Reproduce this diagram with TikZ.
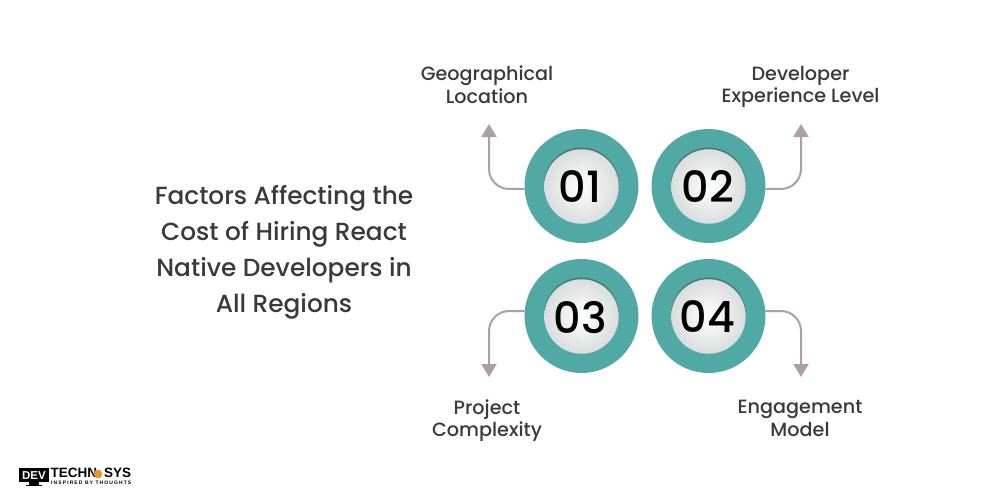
\documentclass[tikz,border=0pt]{standalone}
\usepackage{fontspec}
\setmainfont{Poppins Medium}
\newfontfamily\logofont{Liberation Sans}
\newfontfamily\tagfont[LetterSpace=22]{Liberation Sans Bold}
\usetikzlibrary{arrows.meta,shapes.geometric}
\definecolor{ink}{HTML}{3A3A3A}
\definecolor{ringc}{HTML}{50A9A5}
\definecolor{conn}{HTML}{AE9FA7}
\definecolor{logoor}{HTML}{E8952B}
\definecolor{hubedge}{HTML}{DADDDD}
\tikzset{
  ring/.style={circle,fill=ringc,minimum size=114pt,inner sep=0pt},
  hub/.style={circle,minimum size=74.5pt,inner sep=0pt,inner color=white,outer color=hubedge},
  num/.style={text=black,font=\fontsize{43}{43}\selectfont},
  link/.style={draw=conn,line width=2pt,rounded corners=20pt,-{Triangle[width=15pt,length=13pt]}},
  lab/.style={align=center,text=ink,font=\fontsize{19.2}{22.5}\selectfont},
  ttl/.style={align=center,text=ink,font=\fontsize{24.8}{36}\selectfont},
}
\begin{document}
\begin{tikzpicture}[x=1pt,y=-1pt]
\useasboundingbox (0,0) rectangle (1000,500);
\fill[white] (0,0) rectangle (1000,500);
\node[ttl] (title) at (284,252) {Factors Affecting the\\Cost of Hiring React\\Native Developers in\\All Regions};
\node[ring] (r1) at (581.5,186) {};
\node[ring] (r2) at (708.5,186) {};
\node[ring] (r3) at (581.5,316) {};
\node[ring] (r4) at (708.5,316) {};
\coordinate (t1) at (489,124);
\coordinate (t2) at (801,124);
\coordinate (t3) at (489,377);
\coordinate (t4) at (801,377);
\draw[link] (r1.183) -| (t1);
\draw[link] (r2.-3) -| (t2);
\draw[link] (r3.175) -| (t3);
\draw[link] (r4.5) -| (t4);
\fill[black!70,opacity=.55] (581.5,185) circle (37.5pt);
\fill[black!70,opacity=.55] (708.5,185) circle (37.5pt);
\fill[black!70,opacity=.55] (581.5,315) circle (37.5pt);
\fill[black!70,opacity=.55] (708.5,315) circle (37.5pt);
\node[hub] (h1) at (581.5,186.5) {};
\node[hub] (h2) at (708.5,186.5) {};
\node[hub] (h3) at (581.5,316.5) {};
\node[hub] (h4) at (708.5,316.5) {};
\node[num] (n1) at (580,187) {01};
\node[num] (n2) at (708,187) {02};
\node[num] (n3) at (580.5,318) {03};
\node[num] (n4) at (707.5,317) {04};
\node[lab] (l1) at (487,84.5) {Geographical\\Location};
\node[lab] (l2) at (800.5,87) {Developer\\Experience Level};
\node[lab] (l3) at (487,420.5) {Project\\Complexity};
\node[lab] (l4) at (800,418.5) {Engagement\\Model};
% logo
\fill[black] (19,468) rectangle (49,482);
\fill[black] (29,482) rectangle (39,485);
\fill[black] (26,485) rectangle (42,486.2);
\node[inner sep=0pt,text=white,font=\logofont\bfseries\fontsize{11.5}{11.5}\selectfont] (ldev) at (34,475.2) {DEV};
\node[inner sep=0pt,anchor=west,text=black,font=\logofont\bfseries\fontsize{13.5}{12}\selectfont] (ltech) at (50.5,473) {TECHN};
\node[regular polygon,regular polygon sides=6,fill=logoor,minimum size=9pt,inner sep=0pt] (lhex) at (98,474) {};
\node[inner sep=0pt,anchor=west,text=black,font=\logofont\bfseries\fontsize{13.5}{12}\selectfont] (lsys) at (104,473) {SYS};
\node[inner sep=0pt,anchor=west,text=black,font=\tagfont\fontsize{5}{5}\selectfont] (ltag) at (51,482.8) {INSPIRED BY THOUGHTS};
\end{tikzpicture}
\end{document}
